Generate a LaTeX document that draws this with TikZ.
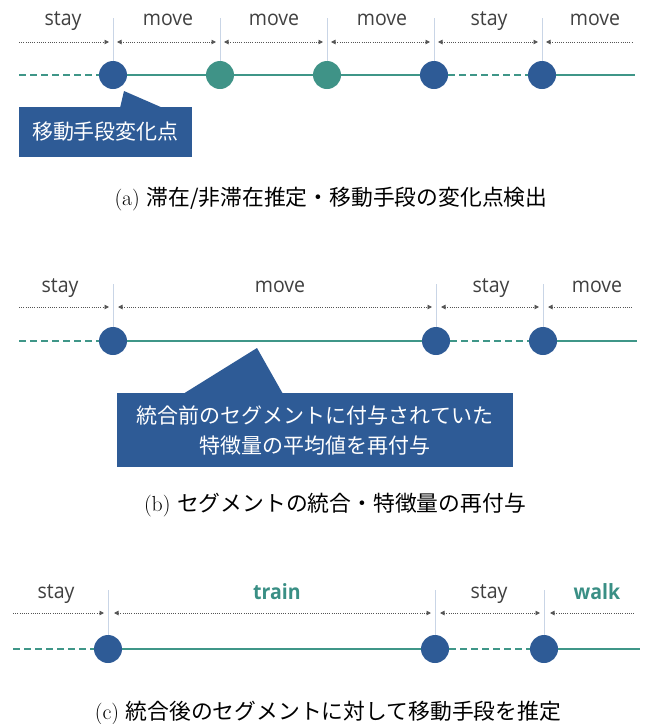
\documentclass[tikz,border=0pt]{standalone}
\usepackage{fontspec}
\usetikzlibrary{arrows.meta,calc}
\newfontfamily\cjk{Noto Sans CJK JP}
\newfontfamily\labfont{Open Sans}
\definecolor{blueC}{HTML}{2E5B96}
\definecolor{tealC}{HTML}{3F9387}
\definecolor{lineC}{HTML}{3F9688}
\definecolor{txtC}{HTML}{404040}
\definecolor{arrC}{HTML}{555555}
\definecolor{vlC}{HTML}{C9D5E6}
\definecolor{modeC}{HTML}{3A8F85}
\begin{document}
\begin{tikzpicture}[x=1pt,y=-1pt,
  bdot/.style={circle,fill=blueC,minimum size=28pt,inner sep=0pt},
  tdot/.style={circle,fill=tealC,minimum size=28pt,inner sep=0pt},
  tl/.style={draw=lineC,line width=2pt},
  tld/.style={tl,dash pattern=on 7pt off 4pt},
  vl/.style={draw=vlC,line width=0.9pt},
  dimarrow/.style={draw=arrC,line width=0.9pt,dash pattern=on 0.9pt off 1.3pt},
  tipR/.style={dimarrow,-{Triangle[length=4.5pt,width=4.5pt]}},
  tipL/.style={dimarrow,{Triangle[length=4.5pt,width=4.5pt]}-},
  tipLR/.style={dimarrow,{Triangle[length=4.5pt,width=4.5pt]}-{Triangle[length=4.5pt,width=4.5pt]}},
  lab/.style={anchor=base,text=txtC,font=\labfont\fontsize{21}{24}\selectfont,inner sep=0pt,xscale=0.93},
  mode/.style={anchor=base,text=modeC,font=\labfont\bfseries\fontsize{21}{24}\selectfont,inner sep=0pt,xscale=0.93},
  callbox/.style={fill=blueC,text=white,align=center,inner sep=0pt,font=\cjk\fontsize{21}{30}\selectfont},
  captxt/.style={text=black,inner sep=0pt,font=\fontsize{21.8}{26}\selectfont}
]
\useasboundingbox (0,0) rectangle (646,724);

% ---------------- panel (a) ----------------
\node[bdot] (a1) at (113,75) {};
\node[tdot] (a2) at (220,75) {};
\node[tdot] (a3) at (327,75) {};
\node[bdot] (a4) at (434,75) {};
\node[bdot] (a5) at (542,75) {};
\coordinate (a0) at (19,75);
\coordinate (a6) at (635,75);
\draw[tld] (a0) -- (a1);
\draw[tl] (a1) -- (a2);
\draw[tl] (a2) -- (a3);
\draw[tl] (a3) -- (a4);
\draw[tld] (a4) -- (a5);
\draw[tl] (a5) -- (a6);
\foreach \i/\x in {1/113,2/220,3/327,4/434,5/542}{
  \coordinate (av\i) at (\x,18);
  \draw[vl] (av\i) -- (a\i);
}
\coordinate (ar0s) at (19,42);  \coordinate (ar0e) at (109,42);
\coordinate (ar1s) at (117,42); \coordinate (ar1e) at (216,42);
\coordinate (ar2s) at (224,42); \coordinate (ar2e) at (323,42);
\coordinate (ar3s) at (331,42); \coordinate (ar3e) at (430,42);
\coordinate (ar4s) at (438,42); \coordinate (ar4e) at (538,42);
\coordinate (ar5s) at (546,42); \coordinate (ar5e) at (632,42);
\draw[tipR] (ar0s) -- (ar0e);
\draw[tipLR] (ar1s) -- (ar1e);
\draw[tipLR] (ar2s) -- (ar2e);
\draw[tipLR] (ar3s) -- (ar3e);
\draw[tipLR] (ar4s) -- (ar4e);
\draw[tipL] (ar5s) -- (ar5e);
\node[lab] (la0) at (63,25) {stay};
\node[lab] (la1) at (168,25) {move};
\node[lab] (la2) at (274,25) {move};
\node[lab] (la3) at (382,25) {move};
\node[lab] (la4) at (489,25) {stay};
\node[lab] (la5) at (595,25) {move};
% callout (a)
\coordinate (pa1) at (120,108);
\coordinate (pa2) at (124,91);
\coordinate (pa3) at (163,108);
\fill[blueC] (pa1) -- (pa2) -- (pa3) -- cycle;
\node[callbox,minimum width=173pt,minimum height=50pt] (ca) at (105.5,132) {移動手段変化点};
\node[captxt] (capa) at (331,199) {(a) {\cjk 滞在/非滞在推定・移動手段の変化点検出}};

% ---------------- panel (b) ----------------
\node[bdot] (b1) at (113,341) {};
\node[bdot] (b2) at (436,341) {};
\node[bdot] (b3) at (543,341) {};
\coordinate (b0) at (19,341);
\coordinate (b4) at (637,341);
\draw[tld] (b0) -- (b1);
\draw[tl] (b1) -- (b2);
\draw[tld] (b2) -- (b3);
\draw[tl] (b3) -- (b4);
\foreach \i/\x in {1/113,2/436,3/543}{
  \coordinate (bv\i) at (\x,284);
  \draw[vl] (bv\i) -- (b\i);
}
\coordinate (br0s) at (19,307);  \coordinate (br0e) at (109,307);
\coordinate (br1s) at (118,307); \coordinate (br1e) at (432,307);
\coordinate (br2s) at (441,307); \coordinate (br2e) at (539,307);
\coordinate (br3s) at (548,307); \coordinate (br3e) at (633,307);
\draw[tipR] (br0s) -- (br0e);
\draw[tipLR] (br1s) -- (br1e);
\draw[tipLR] (br2s) -- (br2e);
\draw[tipL] (br3s) -- (br3e);
\node[lab] (lb0) at (60,292) {stay};
\node[lab] (lb1) at (280,292) {move};
\node[lab] (lb2) at (491,292) {stay};
\node[lab] (lb3) at (597,292) {move};
% callout (b)
\coordinate (pb1) at (183,394);
\coordinate (pb2) at (257,348);
\coordinate (pb3) at (283,394);
\fill[blueC] (pb1) -- (pb2) -- (pb3) -- cycle;
\node[callbox,minimum width=396pt,minimum height=74pt] (cb) at (315,430) {統合前のセグメントに付与されていた\\特徴量の平均値を再付与};
\node[captxt] (capb) at (335,505) {(b) {\cjk セグメントの統合・特徴量の再付与}};

% ---------------- panel (c) ----------------
\node[bdot] (c1) at (108,649) {};
\node[bdot] (c2) at (435,649) {};
\node[bdot] (c3) at (544,649) {};
\coordinate (c0) at (13,649);
\coordinate (c4) at (640,649);
\draw[tld] (c0) -- (c1);
\draw[tl] (c1) -- (c2);
\draw[tld] (c2) -- (c3);
\draw[tl] (c3) -- (c4);
\foreach \i/\x in {1/108,2/435,3/544}{
  \coordinate (cv\i) at (\x,590);
  \draw[vl] (cv\i) -- (c\i);
}
\coordinate (cr0s) at (13,613);  \coordinate (cr0e) at (104,613);
\coordinate (cr1s) at (114,613); \coordinate (cr1e) at (431,613);
\coordinate (cr2s) at (440,613); \coordinate (cr2e) at (540,613);
\coordinate (cr3s) at (550,613); \coordinate (cr3e) at (635,613);
\draw[tipR] (cr0s) -- (cr0e);
\draw[tipLR] (cr1s) -- (cr1e);
\draw[tipLR] (cr2s) -- (cr2e);
\draw[tipL] (cr3s) -- (cr3e);
\node[lab] (lc0) at (56,598) {stay};
\node[mode] (lc1) at (277,599) {train};
\node[lab] (lc2) at (489,598) {stay};
\node[mode] (lc3) at (597,599) {walk};
\node[captxt] (capc) at (328,713) {(c) {\cjk 統合後のセグメントに対して移動手段を推定}};
\end{tikzpicture}
\end{document}
